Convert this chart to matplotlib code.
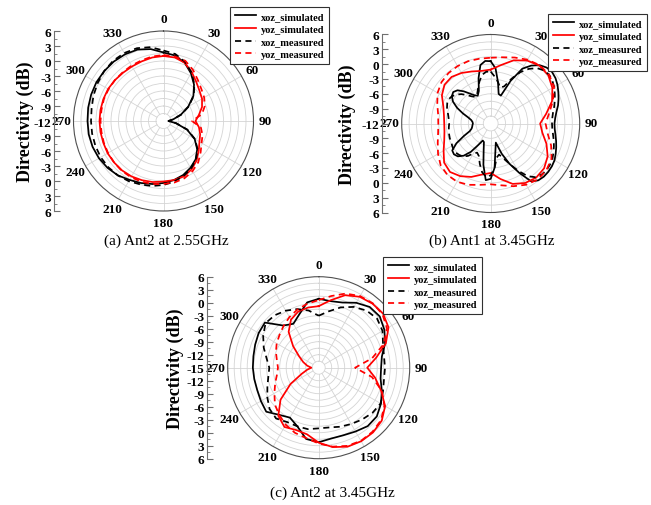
import numpy as np
import matplotlib
matplotlib.use('Agg')
import matplotlib.pyplot as plt
from matplotlib.ticker import MultipleLocator, FuncFormatter

plt.rcParams['font.family'] = ['Liberation Serif', 'DejaVu Serif']
plt.rcParams['font.weight'] = 'bold'
plt.rcParams['axes.unicode_minus'] = False

W, H = 651, 506

# angles (deg, clockwise from top)
ang10 = np.arange(0, 360, 10)
ang5 = np.arange(0, 360, 5)
theta_ticks = np.arange(0, 360, 30)

# (a) Ant2 at 2.55GHz, directivity in dB
a_xoz_sim = [1.7, 1.3, 0.4, -1.0, -2.5, -4.2, -6.3, -8.3, -10.0, -11.0, -9.5, -7.0,
             -4.8, -3.2, -2.0, -1.2, -0.5, 0.0, 0.4, 0.8, 1.2, 1.6, 2.2, 2.6,
             2.9, 3.1, 3.2, 3.2, 3.3, 3.4, 3.5, 3.5, 3.5, 3.4, 3.2, 2.6]
a_yoz_sim = [1.0, 0.9, 0.4, -0.7, -1.8, -2.6, -3.1, -3.8, -4.8, -5.6, -4.8, -4.2,
             -3.7, -2.8, -1.7, -0.8, -0.2, 0.0, 0.1, 0.4, 0.6, 0.8, 0.9, 0.9,
             0.9, 0.8, 0.8, 0.8, 0.8, 0.8, 0.8, 0.7, 0.6, 0.6, 0.7, 0.9]
a_xoz_meas = [2.1, 1.6, 0.6, -0.8, -2.4, -4.1, -6.2, -8.2, -10.0, -11.0, -9.4, -6.9,
              -4.7, -3.1, -1.9, -1.0, -0.3, 0.3, 0.8, 1.2, 1.5, 1.9, 2.2, 2.4,
              2.5, 2.5, 2.5, 2.5, 2.6, 2.9, 3.2, 3.5, 3.7, 3.7, 3.5, 3.0]
a_yoz_meas = [1.2, 1.1, 0.8, -0.2, -1.3, -2.1, -2.6, -3.2, -4.2, -6.3, -4.4, -3.7,
              -3.2, -2.3, -1.2, -0.4, 0.2, 0.5, 0.6, 0.8, 0.9, 1.0, 1.0, 0.9,
              0.8, 0.7, 0.6, 0.6, 0.6, 0.7, 0.7, 0.7, 0.7, 0.8, 0.9, 1.1]

# (b) Ant1 at 3.45GHz
b_xoz_sim = [0.6, -0.8, -3.5, -5.8, -6.0, -2.5, 0.8, 2.3, 3.4, 4.0, 4.2, 4.0,
             3.6, 3.1, 2.6, 2.1, 1.5, 1.1, 0.9, 1.0, 1.3, 1.7, 2.1, 2.5,
             2.9, 3.1, 3.2, 3.2, 3.0, 2.3, -0.5, -3.0, -5.5, -8.0, -6.5, -3.0,
             -0.8, -0.5, -3.5, -6.5, -8.0, -8.2, -7.0, -5.0, -3.5, -2.6, -2.3, -2.5,
             -4.0, -6.0, -7.5, -8.0, -8.2, -8.3, -8.4, -8.3, -8.0, -7.3, -6.0, -4.5,
             -3.2, -2.4, -2.1, -2.5, -3.5, -4.6, -5.4, -5.8, -5.0, -2.5, 0.0, 0.7]
b_xoz_meas = [-1.5, -2.5, -3.5, -4.5, -4.0, -2.0, 0.0, 1.5, 2.6, 3.2, 3.4, 3.2,
              2.8, 2.3, 1.8, 1.3, 0.8, 0.5, 0.4, 0.5, 0.8, 1.2, 1.6, 2.0,
              2.4, 2.6, 2.7, 2.6, 2.2, 1.0, -1.0, -3.0, -4.5, -5.5, -5.0, -3.0,
              -1.5, -1.2, -2.0, -3.5, -5.0, -5.5, -5.0, -4.0, -3.3, -3.0, -2.8, -2.8,
              -3.0, -3.2, -3.2, -3.3, -3.4, -3.5, -3.6, -3.5, -3.3, -3.0, -2.6, -2.3,
              -2.2, -2.4, -2.9, -3.6, -4.5, -5.3, -5.8, -5.5, -4.5, -3.2, -2.0, -1.5]
b_yoz_sim = [-1.1, 0.0, 1.6, 2.7, 3.3, 3.2, 2.4, 1.2, -0.6, -2.0, -1.4, 0.0,
             1.3, 2.1, 2.3, 1.9, 1.0, -0.6, -2.0, -1.5, -0.5, 0.3, 0.8, 0.3,
             -1.0, -2.0, -2.5, -2.6, -2.4, -1.8, -0.6, 0.2, 0.3, -0.2, -0.8, -1.2]
b_yoz_meas = [1.3, 1.6, 2.2, 2.9, 3.4, 3.4, 2.8, 1.4, 0.0, -0.9, -0.3, 1.0,
              2.2, 2.7, 2.8, 2.3, 1.5, 0.7, 0.3, 0.6, 1.2, 1.6, 1.6, 1.2,
              0.3, -0.6, -1.2, -1.4, -1.2, -0.5, 0.4, 1.0, 1.3, 1.4, 1.4, 1.3]

# (c) Ant2 at 3.45GHz
c_xoz_sim = [0.9, 0.6, 1.0, 2.3, 3.3, 3.4, 2.5, 1.3, -0.2, -0.6, -0.5, 0.5,
             1.6, 2.5, 2.6, 2.0, 1.6, 1.6, 2.2, 1.7, -0.6, -1.7, -0.8, 0.8,
             0.4, 0.1, 0.1, 0.2, 0.3, 0.6, 1.0, 1.2, -2.3, -3.3, -1.9, 0.3]
c_yoz_sim = [-0.8, 0.8, 2.8, 3.9, 4.3, 4.4, 3.6, 1.5, -1.5, -3.8, -1.8, 0.3,
             2.7, 4.0, 4.5, 4.6, 4.4, 3.6, 2.3, 0.6, 0.3, 0.8, -0.5, -3.5,
             -7.5, -10.8, -12.3, -13.3, -12.3, -11.2, -9.8, -7.3, -4.2, -2.2, -1.2, -0.9]
c_xoz_meas = [-3.0, -1.8, -0.2, 1.2, 2.2, 2.6, 2.0, 0.8, 0.3, 0.3, 0.3, 0.8,
              1.5, 1.2, 0.6, 0.0, -0.5, -1.0, -1.0, -0.6, -0.6, -0.5, 0.3, -0.2,
              -1.3, -2.4, -3.2, -3.6, -2.8, -1.5, -0.2, 1.0, 0.8, 0.2, -0.6, -1.6]
c_yoz_meas = [0.6, 1.8, 3.2, 4.1, 4.4, 4.2, 3.2, 1.0, -2.5, -6.6, -2.5, 0.5,
              2.5, 3.8, 4.3, 4.5, 4.2, 3.5, 2.5, 1.5, 1.0, 0.2, -0.8, -1.8,
              -3.2, -4.3, -5.2, -5.6, -5.2, -4.5, -3.8, -3.2, -2.4, -1.5, -0.7, 0.0]

labels = ['xoz_simulated', 'yoz_simulated', 'xoz_measured', 'yoz_measured']
styles = [('black', '-'), ('red', '-'), ('black', '--'), ('red', '--')]

grid_color = '#d4d4d4'
axis_color = '#707070'


def px_box(cx, cy, r):
    return [(cx - r) / W, 1 - (cy + r) / H, 2 * r / W, 2 * r / H]


def closed(angles, values):
    th = np.radians(np.append(angles, angles[0] + 360))
    return th, np.append(values, values[0])


def draw_panel(fig, cx, cy, r, rmin, rmax, series, axis_x, label_x, legend_xy):
    ax = fig.add_axes(px_box(cx, cy, r), projection='polar')
    ax.set_theta_zero_location('N')
    ax.set_theta_direction(-1)
    ax.set_ylim(rmin, rmax)
    ax.set_axisbelow(True)

    rings = np.arange(rmin + 1.5, rmax, 1.5)
    ax.set_yticks(rings)
    ax.set_yticklabels([])
    ax.yaxis.grid(True, color=grid_color, lw=0.6)
    ax.tick_params(axis='y', length=0)

    ax.set_xticks(np.radians(theta_ticks))
    ax.set_xticklabels([str(t) for t in theta_ticks], fontsize=9.5)
    ax.xaxis.grid(False)
    ax.tick_params(axis='x', pad=-2)
    for t in theta_ticks:
        ax.plot([np.radians(t)] * 2, [rings[0], rmax], color=grid_color, lw=0.6, zorder=0)
    ax.spines['polar'].set_color('#505050')
    ax.spines['polar'].set_linewidth(0.8)

    for (angles, values), (color, ls), lab in zip(series, styles, labels):
        th, rr = closed(angles, values)
        line, = ax.plot(th, rr, color=color, lw=1.25, label=lab)
        if ls == '--':
            line.set_dashes((3.5, 2.5))

    leg = ax.legend(loc='upper left', bbox_to_anchor=(legend_xy[0] / W, 1 - legend_xy[1] / H),
                    bbox_transform=fig.transFigure, fontsize=7.5, frameon=True, fancybox=False,
                    edgecolor='#303030', framealpha=1, borderpad=0.45, labelspacing=0.32,
                    handlelength=2.0, handletextpad=0.5, borderaxespad=0)
    leg.get_frame().set_linewidth(0.8)

    # vertical directivity scale through the full diameter
    span = rmax - rmin
    axl = fig.add_axes([axis_x / W, 1 - (cy + r) / H, 0.002, 2 * r / H])
    axl.set_ylim(-span, span)
    axl.patch.set_visible(False)
    for s in ('top', 'right', 'bottom'):
        axl.spines[s].set_visible(False)
    axl.spines['left'].set_color(axis_color)
    axl.spines['left'].set_linewidth(0.8)
    axl.set_xticks([])
    axl.yaxis.set_major_locator(MultipleLocator(3))
    axl.yaxis.set_minor_locator(MultipleLocator(1.5))
    axl.yaxis.set_major_formatter(FuncFormatter(lambda y, pos: '%d' % round(rmin + abs(y))))
    axl.tick_params(axis='y', which='major', direction='in', length=4, width=0.8,
                    color=axis_color, labelsize=9.5, pad=2)
    axl.tick_params(axis='y', which='minor', direction='in', length=2, width=0.6, color=axis_color)

    fig.text(label_x / W, 1 - cy / H, 'Directivity (dB)', rotation=90, ha='center', va='center',
             fontsize=13)
    return ax


fig = plt.figure(figsize=(W / 100, H / 100), dpi=100)

draw_panel(fig, 163.5, 122, 90, -12, 6,
           [(ang10, a_xoz_sim), (ang10, a_yoz_sim), (ang10, a_xoz_meas), (ang10, a_yoz_meas)],
           axis_x=54, label_x=25, legend_xy=(230, 8))
draw_panel(fig, 490.7, 124.5, 89, -12, 6,
           [(ang5, b_xoz_sim), (ang10, b_yoz_sim), (ang5, b_xoz_meas), (ang10, b_yoz_meas)],
           axis_x=382, label_x=347, legend_xy=(548, 15))
draw_panel(fig, 318.7, 368.7, 91, -15, 6,
           [(ang10, c_xoz_sim), (ang10, c_yoz_sim), (ang10, c_xoz_meas), (ang10, c_yoz_meas)],
           axis_x=207, label_x=175, legend_xy=(383, 258))

fig.text(166 / W, 1 - 241 / H, '(a) Ant2 at 2.55GHz', ha='center', va='center',
         fontsize=11, fontweight='normal')
fig.text(492 / W, 1 - 241 / H, '(b) Ant1 at 3.45GHz', ha='center', va='center',
         fontsize=11, fontweight='normal')
fig.text(332 / W, 1 - 493 / H, '(c) Ant2 at 3.45GHz', ha='center', va='center',
         fontsize=11, fontweight='normal')

fig.savefig('out.png', dpi=100)
